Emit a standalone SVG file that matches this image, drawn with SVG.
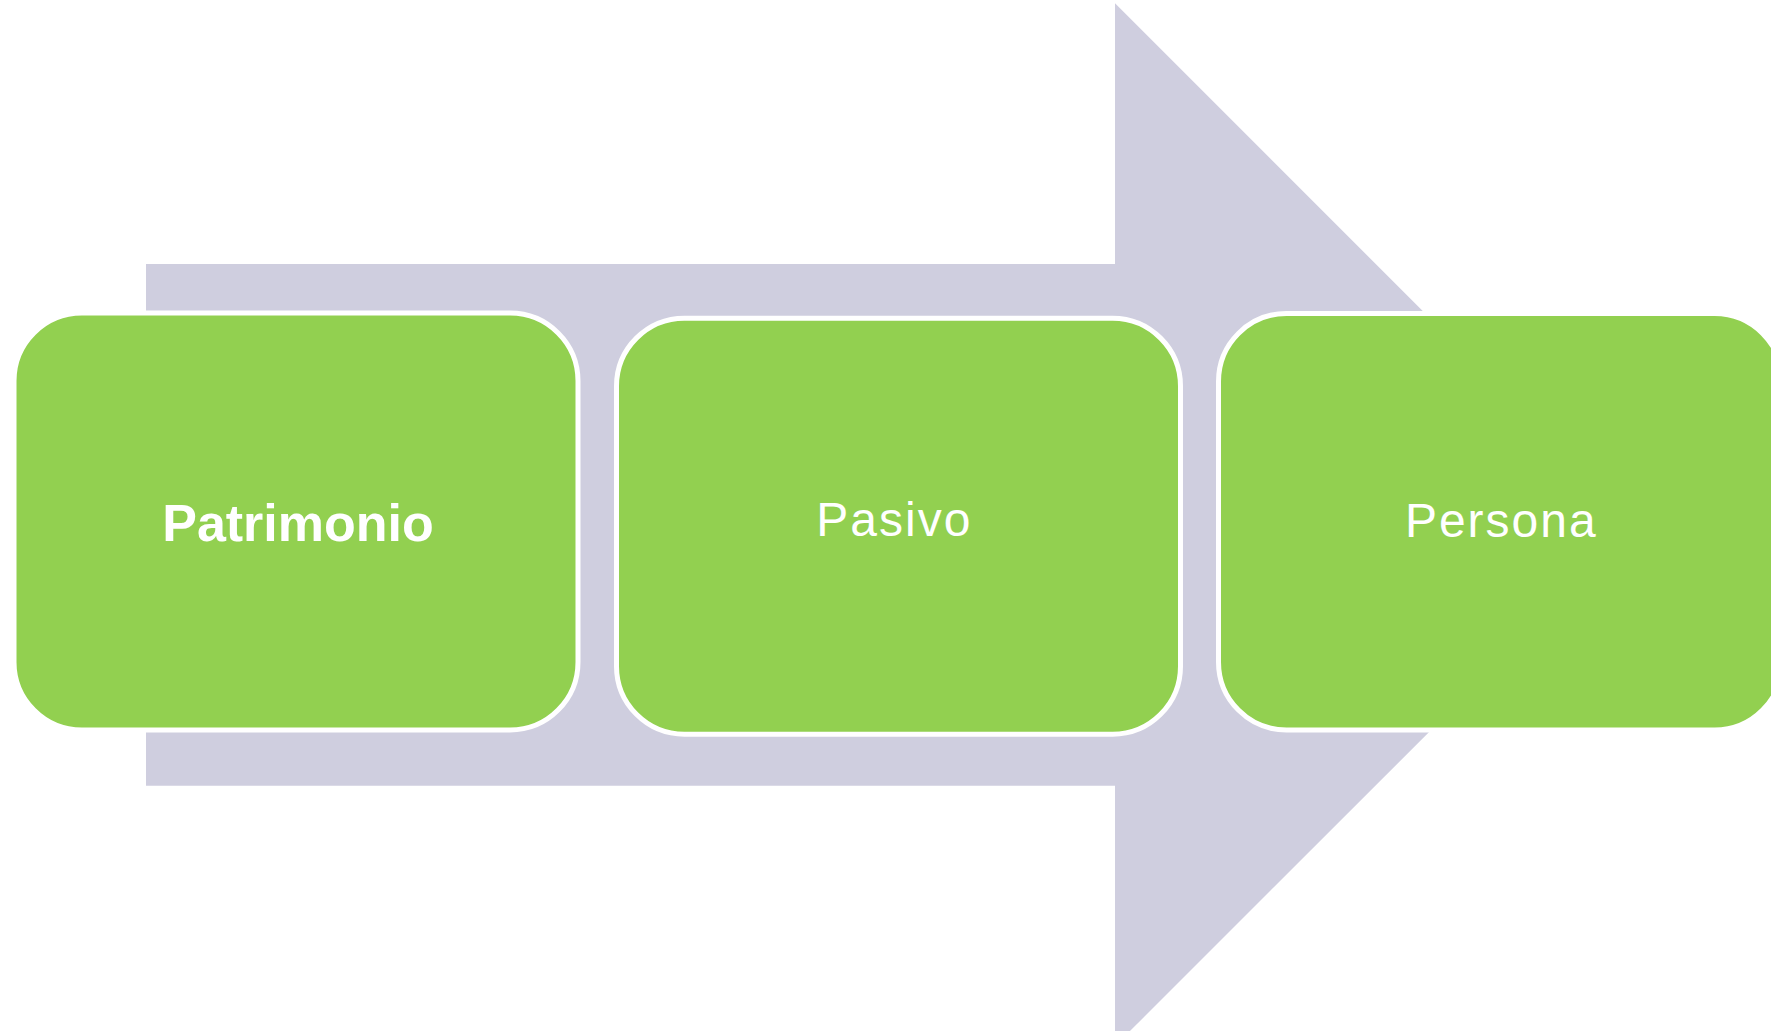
<svg xmlns="http://www.w3.org/2000/svg" width="1771" height="1031" viewBox="0 0 1771 1031">
  <style>
    .box { fill: #92D050; stroke: #FFFFFF; stroke-width: 5; }
    .lbl { fill: #FFFFFF; font-family: "Liberation Sans", Arial, sans-serif; text-anchor: middle; }
    .bold { font-size: 52px; font-weight: bold; }
    .reg { font-size: 48px; letter-spacing: 2px; }
  </style>
  <rect width="1771" height="1031" fill="#FFFFFF"/>
  <g id="connectors">
    <polygon id="big-arrow" fill="#CFCEDF" points="146,264 1115,264 1115,3.3 1636.5,524.7 1115,1046 1115,785.7 146,785.7"/>
  </g>
  <g id="node-patrimonio">
    <rect class="box" x="14" y="313" width="564" height="417" rx="68" ry="68"/>
    <text class="lbl bold" x="298" y="541">Patrimonio</text>
  </g>
  <g id="node-pasivo">
    <rect class="box" x="616.5" y="318.2" width="564" height="416" rx="68" ry="68"/>
    <text class="lbl reg" x="894.3" y="536">Pasivo</text>
  </g>
  <g id="node-persona">
    <rect class="box" x="1218.5" y="313.5" width="564" height="416.5" rx="68" ry="68"/>
    <text class="lbl reg" x="1501.3" y="536.7">Persona</text>
  </g>
</svg>
